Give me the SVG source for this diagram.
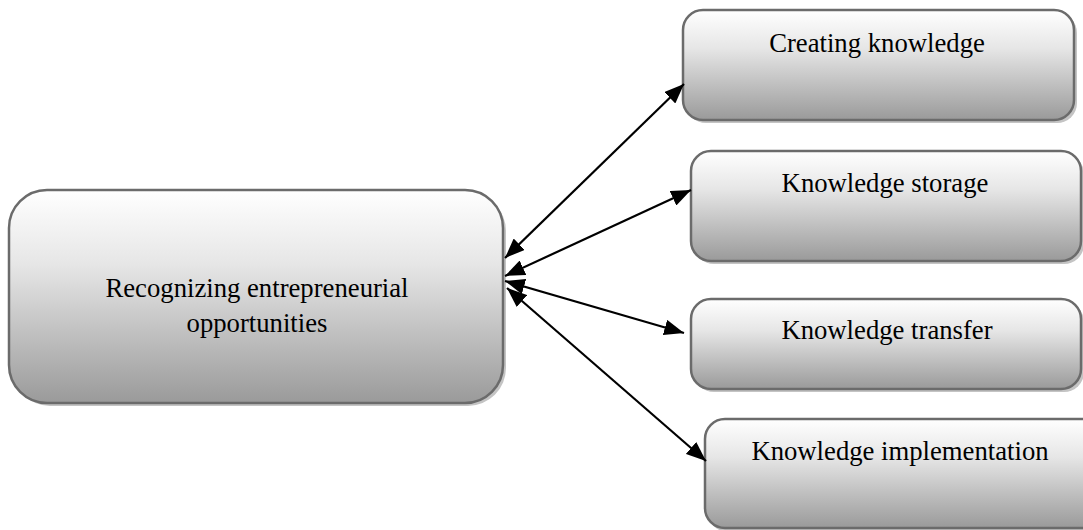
<svg xmlns="http://www.w3.org/2000/svg" width="1083" height="530" viewBox="0 0 1083 530">
<defs>
<linearGradient id="g" x1="0" y1="0" x2="0" y2="1">
<stop offset="0" stop-color="#ffffff"/>
<stop offset="0.35" stop-color="#e6e6e6"/>
<stop offset="1" stop-color="#9a9a9a"/>
</linearGradient>
<marker id="ah" viewBox="0 0 10 8" refX="10" refY="4" markerWidth="9" markerHeight="7.2" markerUnits="strokeWidth" orient="auto-start-reverse">
<path d="M0,0 L10,4 L0,8 z" fill="#000"/>
</marker>
</defs>
<style>
.box{fill:url(#g);stroke:#6b6b6b;stroke-width:2.5}
.sh{fill:#c4c4c4}
.t{font-family:"Liberation Serif","Times New Roman",serif;font-size:26.7px;fill:#000;text-anchor:middle}
.c{stroke:#000;stroke-width:2.2;fill:none;marker-start:url(#ah);marker-end:url(#ah)}
</style>
<rect width="1083" height="530" fill="#fff"/>
<g id="n0">
<rect class="sh" x="12" y="193" width="494" height="213" rx="38"/>
<rect class="box" x="9" y="190" width="494" height="213" rx="38"/>
<text class="t" x="257" y="297">Recognizing entrepreneurial</text>
<text class="t" x="257" y="332">opportunities</text>
</g>
<g id="n1">
<rect class="sh" x="686" y="13" width="391" height="110" rx="20"/>
<rect class="box" x="683" y="10" width="391" height="110" rx="20"/>
<text class="t" x="877" y="52">Creating knowledge</text>
</g>
<g id="n2">
<rect class="sh" x="694" y="154" width="390" height="110" rx="20"/>
<rect class="box" x="691" y="151" width="390" height="110" rx="20"/>
<text class="t" x="885" y="192">Knowledge storage</text>
</g>
<g id="n3">
<rect class="sh" x="694" y="302" width="390" height="90" rx="20"/>
<rect class="box" x="691" y="299" width="390" height="90" rx="20"/>
<text class="t" x="887" y="339">Knowledge transfer</text>
</g>
<g id="n4">
<rect class="sh" x="708" y="422" width="400" height="110" rx="20"/>
<rect class="box" x="705" y="419" width="400" height="109" rx="20"/>
<text class="t" x="900" y="460">Knowledge implementation</text>
</g>
<g id="connectors">
<line class="c" x1="505" y1="258" x2="684" y2="84"/>
<line class="c" x1="505" y1="276" x2="691" y2="190"/>
<line class="c" x1="505" y1="281" x2="684" y2="333"/>
<line class="c" x1="507" y1="288" x2="706" y2="461"/>
</g>
</svg>
